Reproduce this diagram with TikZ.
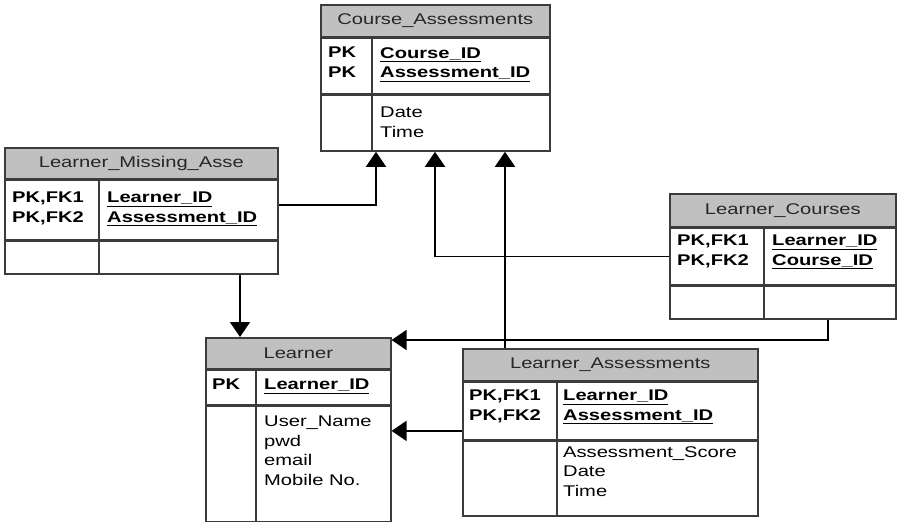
\documentclass[tikz,border=0pt]{standalone}
\usepackage{fontspec}
\setmainfont[FakeStretch=1.3]{Liberation Sans}
\usetikzlibrary{arrows.meta, positioning}
\definecolor{hdrgray}{RGB}{192,192,192}
\definecolor{rulegray}{RGB}{60,60,60}

\begin{document}
\begin{tikzpicture}[
        x=1pt, y=-1pt,
        >={Triangle[length=15pt, width=20pt]},
        hdr/.style={draw=rulegray, fill=hdrgray, line width=1.6pt, anchor=north west, inner sep=0pt, minimum height=32pt, font=\fontsize{15.5}{19}\selectfont, text=black!85},
        sect/.style={draw=rulegray, fill=white, line width=1.6pt, anchor=north west, inner sep=0pt},
        cols/.style={anchor=north west, align=left, inner sep=0pt, font=\fontsize{15.5}{19.5}\selectfont},
        keys/.style={cols, font=\fontsize{15.5}{19.5}\selectfont\bfseries},
        fk/.style={->, line width=1.8pt}
    ]
        \useasboundingbox (0,0) rectangle (900,522);

        % Course_Assessments
        \node[hdr, minimum width=229pt] (caHead) at (320,4) {Course\_Assessments};
        \node[sect, minimum width=229pt, minimum height=55pt] (caKey) at (caHead.south west) {};
        \node[sect, minimum width=229pt, minimum height=56pt] (caAttr) at (caKey.south west) {};
        \draw[rulegray, line width=1.6pt] ([xshift=52pt]caKey.north west) -- ([xshift=52pt]caAttr.south west);
        \node[keys] (caPk) at (328,47) {PK\\PK};
        \node[keys] (caIds) at (380,47) {\underline{Course\_ID}\\\underline{Assessment\_ID}};
        \node[cols] (caCols) at (380,107) {Date\\Time};

        % Learner_Missing_Asse
        \node[hdr, minimum width=273pt, minimum height=31pt] (lmHead) at (4,147) {Learner\_Missing\_Asse};
        \node[sect, minimum width=273pt, minimum height=59pt] (lmKey) at (lmHead.south west) {};
        \node[sect, minimum width=273pt, minimum height=33pt] (lmAttr) at (lmKey.south west) {};
        \draw[rulegray, line width=1.6pt] ([xshift=95pt]lmKey.north west) -- ([xshift=95pt]lmAttr.south west);
        \node[keys] (lmPk) at (12,192) {PK,FK1\\PK,FK2};
        \node[keys] (lmIds) at (107,192) {\underline{Learner\_ID}\\\underline{Assessment\_ID}};

        % Learner_Courses
        \node[hdr, minimum width=226pt, minimum height=33pt] (lcHead) at (669,193) {Learner\_Courses};
        \node[sect, minimum width=226pt, minimum height=56pt] (lcKey) at (lcHead.south west) {};
        \node[sect, minimum width=226pt, minimum height=33pt] (lcAttr) at (lcKey.south west) {};
        \draw[rulegray, line width=1.6pt] ([xshift=95pt]lcKey.north west) -- ([xshift=95pt]lcAttr.south west);
        \node[keys] (lcPk) at (677,235) {PK,FK1\\PK,FK2};
        \node[keys] (lcIds) at (772,235) {\underline{Learner\_ID}\\\underline{Course\_ID}};

        % Learner
        \node[hdr, minimum width=185pt, minimum height=31pt] (lHead) at (205,337) {Learner};
        \node[sect, minimum width=185pt, minimum height=34pt] (lKey) at (lHead.south west) {};
        \node[sect, minimum width=185pt, minimum height=116pt] (lAttr) at (lKey.south west) {};
        \draw[rulegray, line width=1.6pt] ([xshift=51pt]lKey.north west) -- ([xshift=51pt]lAttr.south west);
        \node[keys] (lPk) at (212,379) {PK};
        \node[keys] (lIds) at (264,379) {\underline{Learner\_ID}};
        \node[cols] (lCols) at (264,416) {User\_Name\\pwd\\email\\Mobile No.};

        % Learner_Assessments
        \node[hdr, minimum width=295pt] (laHead) at (462,348) {Learner\_Assessments};
        \node[sect, minimum width=295pt, minimum height=57pt] (laKey) at (laHead.south west) {};
        \node[sect, minimum width=295pt, minimum height=75pt] (laAttr) at (laKey.south west) {};
        \draw[rulegray, line width=1.6pt] ([xshift=95pt]laKey.north west) -- ([xshift=95pt]laAttr.south west);
        \node[keys] (laPk) at (469,390) {PK,FK1\\PK,FK2};
        \node[keys] (laIds) at (563,390) {\underline{Learner\_ID}\\\underline{Assessment\_ID}};
        \node[cols] (laCols) at (563,446) {Assessment\_Score\\Date\\Time};

        % relationships
        \draw[fk] ([yshift=5pt]lmKey.east) -| ([xshift=56pt]caAttr.south west);
        \draw[fk] (lcKey.west) -| ([xshift=115pt]caAttr.south west);
        \draw[fk] ([xshift=43pt]laHead.north west) -- ([xshift=185pt]caAttr.south west);
        \draw[fk] ([xshift=236pt]lmAttr.south west) -- ([xshift=35pt]lHead.north west);
        \draw[fk] ([xshift=159pt]lcAttr.south west) |- ([yshift=-3pt]lHead.north east);
        \draw[fk] ([yshift=-20pt]laKey.west) -- ([yshift=-20pt]laKey.west -| lAttr.east);
    \end{tikzpicture}
\end{document}
